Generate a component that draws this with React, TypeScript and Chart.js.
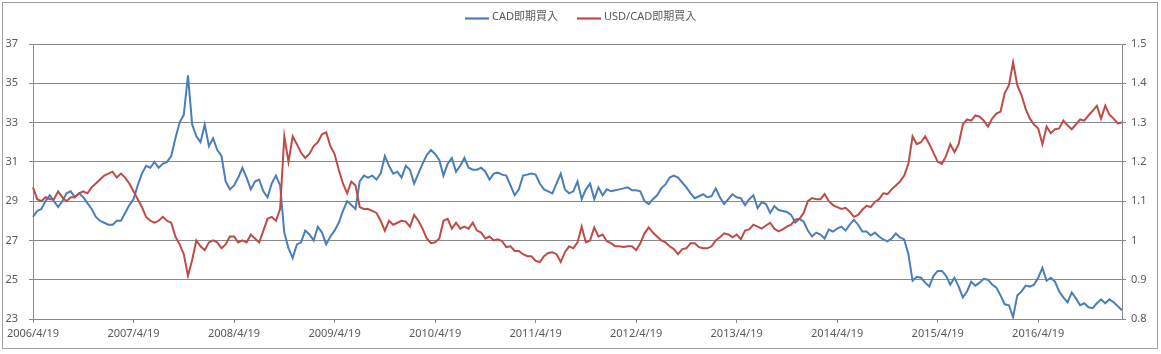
import React, { useEffect, useRef } from "react";
import { Chart, registerables } from "chart.js";

Chart.register(...registerables);

const FONT = '"Noto Sans", "Noto Sans CJK TC", sans-serif';

const SERIES_NAMES = ["CAD即期買入", "USD/CAD即期買入"];

// semi-monthly observation dates: 2006/4/19, 2006/5/4, 2006/5/19, ... (categories)
const FIRST_DATE = { y: 2006, m: 4, d: 19 };
const DAYS_IN_MONTH = [4, 19];

// CAD spot buying rate (left axis, TWD per CAD)
const CAD_TWD = [
  28.2, 28.5, 28.6, 29.0, 29.3, 29.0, 28.7, 29.0, 29.4, 29.5,
  29.2, 29.4, 29.2, 28.9, 28.6, 28.2, 28.0, 27.9, 27.8, 27.8,
  28.0, 28.0, 28.4, 28.8, 29.1, 29.8, 30.4, 30.8, 30.7, 31.0,
  30.7, 30.9, 31.0, 31.3, 32.2, 33.0, 33.4, 35.4, 32.9, 32.3,
  32.0, 32.9, 31.8, 32.2, 31.6,
  31.3, 30.0, 29.6, 29.8, 30.2, 30.7, 30.2, 29.6, 30.0, 30.1,
  29.5, 29.2, 29.9, 30.3, 29.8, 27.4, 26.6, 26.1, 26.8, 26.9,
  27.5, 27.3, 27.0, 27.7, 27.4, 26.8, 27.2, 27.5, 27.9, 28.5,
  29.0, 28.8, 28.6, 30.0, 30.3, 30.2, 30.3, 30.1, 30.4, 31.3,
  30.8, 30.4, 30.5,
  30.2, 30.8, 30.6, 29.9, 30.4, 30.9, 31.35, 31.6, 31.4, 31.1,
  30.3, 30.9, 31.2, 30.5, 30.8, 31.2, 30.7, 30.6, 30.6, 30.7,
  30.5, 30.1, 30.4, 30.45, 30.35, 30.3, 29.8, 29.3, 29.6, 30.3,
  30.35, 30.4, 30.35, 29.9, 29.6, 29.5, 29.4, 29.9, 30.4, 29.6,
  29.4, 29.5, 30.0, 29.1,
  29.6, 29.9, 29.1, 29.7, 29.3, 29.6, 29.5, 29.55, 29.6, 29.65,
  29.7, 29.55, 29.55, 29.5, 29.0, 28.85, 29.1, 29.3, 29.65, 29.85,
  30.2, 30.3, 30.2, 29.95, 29.7, 29.4, 29.15, 29.25, 29.35, 29.2,
  29.25, 29.65, 29.2, 28.85, 29.1, 29.35, 29.2, 29.15, 28.8, 29.1,
  29.3, 28.65, 28.95,
  28.85, 28.4, 28.75, 28.55, 28.5, 28.45, 28.3, 27.9, 28.1, 27.95,
  27.5, 27.2, 27.4, 27.3, 27.1, 27.55, 27.45, 27.6, 27.7, 27.5,
  27.8, 28.05, 27.8, 27.45, 27.45, 27.25, 27.4, 27.2, 27.05, 26.95,
  27.1, 27.35, 27.15, 27.05, 26.3, 24.95, 25.15, 25.1, 24.85, 24.65,
  25.2, 25.45,
  25.45, 25.2, 24.75, 25.1, 24.65, 24.1, 24.4, 24.9, 24.7, 24.85,
  25.05, 25.0, 24.75, 24.6, 24.2, 23.75, 23.7, 23.1, 24.2, 24.4,
  24.7, 24.65, 24.75, 25.1, 25.6, 24.95, 25.1, 24.9, 24.4, 24.1,
  23.85, 24.35, 24.05, 23.7, 23.8, 23.6, 23.55, 23.8, 24.0, 23.8,
  24.0, 23.85, 23.65, 23.45,
];

// USD/CAD spot buying rate (right axis)
const USD_CAD = [
  1.135, 1.105, 1.10, 1.11, 1.105, 1.105, 1.125, 1.11, 1.10, 1.11,
  1.11, 1.12, 1.125, 1.12, 1.135, 1.145, 1.155, 1.165, 1.17, 1.175,
  1.16, 1.17, 1.16, 1.145, 1.125, 1.105, 1.085, 1.06, 1.05, 1.045,
  1.05, 1.06, 1.05, 1.045, 1.01, 0.99, 0.965, 0.91, 0.95, 1.0,
  0.985, 0.975, 0.995, 1.0, 0.995,
  0.98, 0.99, 1.01, 1.01, 0.995, 1.0, 0.995, 1.015, 1.005, 0.995,
  1.025, 1.055, 1.06, 1.05, 1.08, 1.265, 1.2, 1.265, 1.245, 1.223,
  1.21, 1.22, 1.24, 1.25, 1.27, 1.275, 1.24, 1.22, 1.18, 1.145,
  1.12, 1.15, 1.14, 1.085, 1.08, 1.08, 1.075, 1.07, 1.05, 1.025,
  1.05, 1.04, 1.045,
  1.05, 1.048, 1.035, 1.065, 1.05, 1.03, 1.005, 0.993, 0.995, 1.005,
  1.05, 1.055, 1.03, 1.045, 1.03, 1.035, 1.03, 1.045, 1.025, 1.02,
  1.005, 1.01, 1.0, 1.003, 0.998, 0.983, 0.985, 0.973, 0.973, 0.965,
  0.96, 0.96, 0.948, 0.945, 0.96, 0.968, 0.97, 0.965, 0.945, 0.97,
  0.985, 0.98, 0.995, 1.035,
  0.995, 1.0, 1.033, 1.01, 1.015, 0.998, 0.993, 0.985, 0.985, 0.983,
  0.985, 0.985, 0.975, 0.993, 1.018, 1.033, 1.02, 1.01, 1.0, 0.995,
  0.985, 0.978, 0.965, 0.978, 0.98, 0.993, 0.993, 0.983, 0.98, 0.98,
  0.985, 1.0, 1.008, 1.018, 1.015, 1.008, 1.015, 1.003, 1.025, 1.028,
  1.04, 1.035, 1.03,
  1.038, 1.045, 1.03, 1.023, 1.028, 1.035, 1.04, 1.053, 1.055, 1.07,
  1.10, 1.108, 1.105, 1.105, 1.118, 1.10, 1.09, 1.085, 1.08, 1.083,
  1.073, 1.06, 1.065, 1.078, 1.088, 1.085, 1.098, 1.105, 1.12, 1.118,
  1.13, 1.14, 1.15, 1.165, 1.195, 1.265, 1.245, 1.25, 1.265, 1.245,
  1.223, 1.20,
  1.195, 1.215, 1.245, 1.225, 1.245, 1.295, 1.308, 1.305, 1.318, 1.315,
  1.305, 1.29, 1.31, 1.323, 1.328, 1.375, 1.395, 1.453, 1.395, 1.37,
  1.335, 1.31, 1.295, 1.285, 1.245, 1.29, 1.273, 1.283, 1.285, 1.305,
  1.293, 1.283, 1.295, 1.308, 1.305, 1.318, 1.33, 1.343, 1.31, 1.343,
  1.32, 1.31, 1.298, 1.30,
];

// axis ranges
const LEFT_MIN = 23, LEFT_MAX = 37, LEFT_STEP = 2;
const RIGHT_MIN = 0.8, RIGHT_MAX = 1.5, RIGHT_STEP = 0.1;
// x-axis tick labels shown once a year
const TICK_SUFFIX = "/4/19";

function buildDates(n: number): string[] {
  const out: string[] = [];
  let y = FIRST_DATE.y, m = FIRST_DATE.m, di = DAYS_IN_MONTH.indexOf(FIRST_DATE.d);
  for (let k = 0; k < n; k++) {
    out.push(`${y}/${m}/${DAYS_IN_MONTH[di]}`);
    di++;
    if (di >= DAYS_IN_MONTH.length) {
      di = 0;
      m++;
      if (m > 12) { m = 1; y++; }
    }
  }
  return out;
}

const COLORS = ["#4A7EBB", "#BE4B48"];
const GRID = "#8a8a8a";
const TEXT = "#595959";

const W = 1161, H = 354;

const framePlugin = {
  id: "frame",
  afterDraw(chart: any) {
    const ctx = chart.ctx;
    ctx.save();
    ctx.strokeStyle = "#a0a0a0";
    ctx.lineWidth = 1;
    ctx.strokeRect(2.5, 2.5, W - 6, H - 8);
    // legend
    ctx.font = `11px ${FONT}`;
    const items = chart.data.datasets.map((ds: any) => ({
      text: ds.label as string,
      color: ds.borderColor as string,
      w: ctx.measureText(ds.label).width,
    }));
    const lineW = 24, gap = 3, itemGap = 19;
    const total = items.reduce((s: number, it: any) => s + lineW + gap + it.w, 0) + itemGap * (items.length - 1);
    let x = Math.round(W / 2 - total / 2);
    const y = 17;
    for (const it of items) {
      ctx.strokeStyle = it.color;
      ctx.lineWidth = 2.2;
      ctx.beginPath();
      ctx.moveTo(x, y + 1.5);
      ctx.lineTo(x + lineW, y + 1.5);
      ctx.stroke();
      x += lineW + gap;
      ctx.fillStyle = TEXT;
      ctx.textBaseline = "middle";
      ctx.textAlign = "left";
      ctx.fillText(it.text, x, y);
      x += it.w + itemGap;
    }
    ctx.restore();
  },
};

export default function App() {
  const ref = useRef<HTMLCanvasElement | null>(null);

  useEffect(() => {
    if (!ref.current) return;
    const labels = buildDates(CAD_TWD.length);
    const tickFont = { family: FONT, size: 11 };
    const chart = new Chart(ref.current, {
      type: "line",
      data: {
        labels,
        datasets: [
          {
            label: SERIES_NAMES[0],
            data: CAD_TWD,
            borderColor: COLORS[0],
            backgroundColor: COLORS[0],
            borderWidth: 2,
            pointRadius: 0,
            tension: 0,
            yAxisID: "y",
            order: 1,
          },
          {
            label: SERIES_NAMES[1],
            data: USD_CAD,
            borderColor: COLORS[1],
            backgroundColor: COLORS[1],
            borderWidth: 2,
            pointRadius: 0,
            tension: 0,
            yAxisID: "y1",
            order: 0,
          },
        ],
      },
      options: {
        responsive: false,
        animation: false,
        devicePixelRatio: 1,
        layout: { padding: { top: 44, left: 0, right: 0, bottom: 0 } },
        plugins: { legend: { display: false }, tooltip: { enabled: false } },
        scales: {
          x: {
            type: "category",
            offset: false,
            afterBuildTicks: (scale: any) => {
              scale.ticks = scale.ticks.filter((t: any) => String(labels[t.value]).endsWith(TICK_SUFFIX));
            },
            afterFit: (scale: any) => { scale.height = 35; },
            grid: { display: true, drawOnChartArea: false, drawTicks: true, tickLength: 4, color: GRID },
            border: { display: true, color: GRID },
            ticks: {
              autoSkip: false,
              maxRotation: 0,
              minRotation: 0,
              padding: 4,
              color: TEXT,
              font: tickFont,
              callback: function (this: any, v: any) { return labels[v]; },
            },
          },
          y: {
            type: "linear",
            position: "left",
            min: LEFT_MIN,
            max: LEFT_MAX,
            afterFit: (scale: any) => { scale.width = 33; },
            grid: { color: GRID, tickLength: 4, drawTicks: true },
            border: { display: true, color: GRID },
            ticks: { stepSize: LEFT_STEP, padding: 11, color: TEXT, font: tickFont },
          },
          y1: {
            type: "linear",
            position: "right",
            min: RIGHT_MIN,
            max: RIGHT_MAX,
            afterFit: (scale: any) => { scale.width = 39; },
            grid: { drawOnChartArea: false, color: GRID, tickLength: 4, drawTicks: true },
            border: { display: true, color: GRID },
            ticks: {
              stepSize: RIGHT_STEP,
              padding: 5,
              color: TEXT,
              font: tickFont,
              callback: (v: any) => String(parseFloat(Number(v).toFixed(2))),
            },
          },
        },
      },
      plugins: [framePlugin],
    } as any);
    return () => chart.destroy();
  }, []);

  return (
    <div style={{ position: "absolute", left: 0, top: 0, width: W, height: H, background: "#fff" }}>
      <canvas ref={ref} width={W} height={H} style={{ display: "block" }} />
    </div>
  );
}
